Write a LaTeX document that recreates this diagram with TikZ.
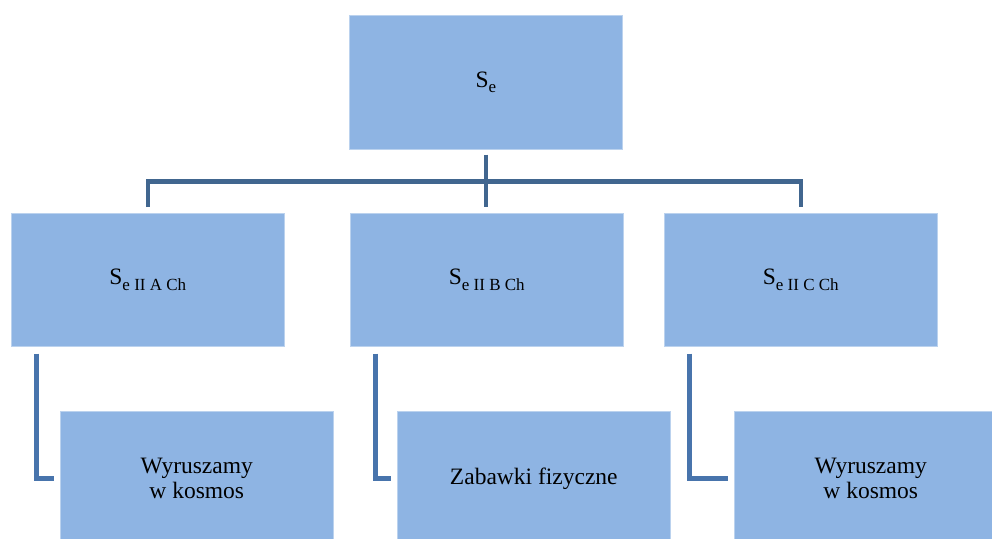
\documentclass[tikz,border=0pt]{standalone}
\usepackage{fontspec}
\setmainfont{Liberation Serif}
\definecolor{boxfill}{HTML}{8EB4E3}
\definecolor{linktop}{HTML}{41668F}
\definecolor{linkside}{HTML}{4874AC}
% S with a lowered, smaller index
\newcommand{\Sidx}[2][-6pt]{S\raisebox{#1}{\fontsize{17}{17}\selectfont #2}}
\begin{document}
\begin{tikzpicture}[x=1pt,y=-1pt,
  box/.style={rectangle, fill=boxfill, draw=boxfill!60!white, line width=0.6pt,
    minimum width=273pt, minimum height=134pt, anchor=north west,
    inner sep=0pt, align=center, font=\fontsize{23.5}{24.5}\selectfont},
  link/.style={draw=linktop, line width=4.5pt, line join=miter},
  sidelink/.style={draw=linkside, line width=5pt, line join=miter}]
  \useasboundingbox (0,0) rectangle (992,538);
  \clip (0,0) rectangle (992,538);

  % top level
  \node[box] (top) at (349,15) {\Sidx[-5.5pt]{e}};

  % second level
  \node[box, minimum height=133pt] (a) at (11,213) {\Sidx{e II A Ch}};
  \node[box, minimum height=133pt] (b) at (350,213) {\Sidx{e II B Ch}};
  \node[box, minimum height=133pt] (c) at (664,213) {\Sidx{e II C Ch}};

  % third level
  \node[box] (p) at (60,411) {Wyruszamy\\w kosmos};
  \node[box] (q) at (397,411) {Zabawki fizyczne};
  \node[box] (r) at (734,411) {Wyruszamy\\w kosmos};

  % tree connectors
  \coordinate (bar) at ([yshift=-32pt]top.south);
  \draw[link] ([yshift=-5pt]top.south) -- ([yshift=6pt]top.south |- b.north);
  \draw[link] ([yshift=6pt]a.north) |- (bar) -| ([yshift=6pt]c.north);

  % side connectors
  \draw[sidelink] ([xshift=25pt,yshift=-7pt]a.south west) |- ([xshift=-6pt]p.west);
  \draw[sidelink] ([xshift=25pt,yshift=-7pt]b.south west) |- ([xshift=-6pt]q.west);
  \draw[sidelink] ([xshift=25pt,yshift=-7pt]c.south west) |- ([xshift=-6pt]r.west);
\end{tikzpicture}
\end{document}
